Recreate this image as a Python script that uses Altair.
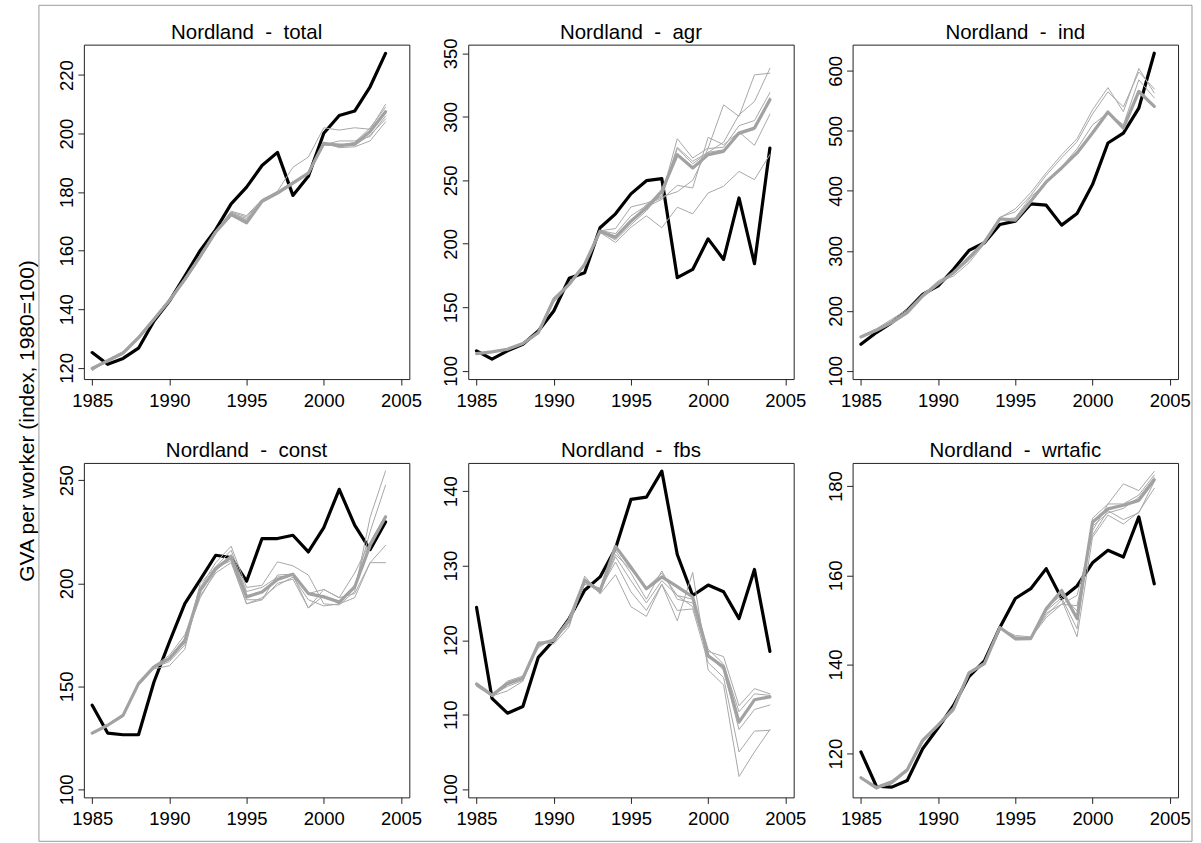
import altair as alt
import pandas as pd

YEARS = list(range(1985, 2005))
X_TICKS = [1985, 1990, 1995, 2000, 2005]
X_DOMAIN = [1984.46, 2005.54]
FONT = "Liberation Sans"
SEP = "\u00a0\u00a0-\u00a0\u00a0"
Y_TITLE = "GVA per worker (index, 1980=100)"

# ---- total ----
TOTAL_ACTUAL = [125.2, 121.2, 123.2, 126.7, 136.0, 142.8, 151.3, 160.1, 167.2, 176.0,
                181.7, 189.1, 193.6, 178.9, 185.4, 200.1, 206.2, 207.7, 216.0, 227.4]
TOTAL_SYNTH = [119.8, 122.4, 125.0, 130.3, 136.6, 143.0, 150.2, 158.1, 166.4, 172.3,
               169.5, 176.9, 179.7, 183.1, 186.5, 196.7, 195.9, 196.4, 200.7, 207.5]
TOTAL_RUNS = [
    [119.5, 122.0, 125.4, 130.8, 137.0, 143.2, 150.5, 158.6, 166.8, 173.5, 172.0, 177.5, 180.3, 188.5, 192.0, 202.0, 201.2, 202.0, 201.5, 210.0],
    [119.0, 122.6, 125.2, 129.8, 136.2, 142.8, 149.8, 157.6, 166.0, 172.8, 171.0, 177.2, 180.0, 183.4, 186.8, 197.0, 195.2, 195.5, 197.5, 204.0],
    [120.2, 122.2, 124.6, 130.0, 136.8, 143.4, 150.6, 158.4, 166.6, 173.0, 170.5, 177.0, 180.2, 183.6, 186.2, 196.2, 197.5, 197.5, 199.0, 206.0],
    [119.6, 122.8, 125.6, 130.6, 136.4, 142.6, 149.6, 157.8, 166.2, 172.6, 170.2, 176.6, 179.4, 182.8, 186.8, 196.0, 196.0, 197.0, 202.0, 209.0],
    [119.9, 122.3, 124.8, 130.2, 136.9, 143.1, 150.0, 158.3, 166.5, 173.2, 171.5, 177.4, 179.8, 183.3, 186.4, 196.5, 196.5, 196.0, 199.5, 205.0],
]

# ---- agr ----
AGR_ACTUAL = [115.7, 109.2, 115.7, 120.9, 131.4, 147.1, 172.8, 177.2, 212.6, 223.6,
              239.3, 249.7, 251.3, 173.3, 179.8, 203.9, 187.7, 236.1, 184.3, 275.4]
AGR_SYNTH = [113.6, 114.9, 117.0, 121.5, 130.1, 156.3, 168.1, 183.8, 209.9, 205.2,
             217.8, 228.3, 241.4, 270.2, 259.7, 270.2, 272.8, 287.2, 291.1, 313.4]
AGR_RUNS = [
    [113.0, 114.5, 116.5, 121.0, 131.0, 157.5, 169.0, 184.5, 210.5, 208.0, 222.0, 230.0, 238.0, 282.7, 267.5, 275.4, 309.4, 300.3, 333.0, 334.3],
    [114.0, 115.2, 117.5, 122.0, 130.5, 155.5, 167.5, 183.0, 209.5, 203.0, 215.0, 226.0, 240.0, 276.0, 265.0, 272.0, 280.0, 301.6, 312.0, 338.2],
    [113.4, 114.6, 116.8, 121.2, 129.5, 154.0, 167.0, 182.5, 209.0, 201.0, 213.0, 222.0, 212.6, 228.8, 223.6, 240.0, 245.3, 257.0, 250.5, 270.2],
    [113.8, 115.0, 117.2, 121.8, 130.8, 157.0, 168.5, 184.0, 210.0, 206.0, 219.0, 229.0, 235.0, 246.0, 244.0, 283.8, 278.0, 288.0, 277.5, 302.0],
    [113.2, 114.8, 116.6, 121.4, 129.8, 156.0, 168.8, 184.2, 210.2, 212.0, 229.0, 232.0, 237.0, 241.0, 250.0, 275.0, 276.0, 293.0, 297.0, 319.0],
    [113.6, 115.1, 117.1, 121.6, 130.3, 156.8, 167.8, 183.5, 209.8, 204.0, 217.0, 231.0, 236.0, 275.0, 263.0, 272.0, 274.0, 286.0, 290.0, 315.0],
]

# ---- ind ----
IND_ACTUAL = [144.3, 163.7, 180.4, 200.9, 227.5, 241.4, 269.1, 300.7, 313.4, 343.9,
              349.4, 378.3, 376.1, 342.8, 362.2, 410.4, 479.7, 496.3, 537.9, 629.4]
IND_SYNTH = [156.5, 167.6, 180.4, 197.0, 224.7, 245.2, 263.5, 288.5, 314.5, 353.3,
             351.1, 382.7, 414.9, 438.1, 463.1, 496.3, 531.3, 504.7, 565.6, 540.7]
IND_RUNS = [
    [158, 170, 186, 202, 228, 248, 258, 280, 312, 355, 370, 397, 430, 460, 487, 535, 572, 532, 604, 563],
    [157, 169, 184, 200, 226, 250, 262, 284, 313, 356, 365, 392, 426, 455, 482, 528, 565, 540, 598, 570],
    [155, 166, 181, 198, 225, 246, 262, 286, 315, 352, 355, 390, 412, 440, 470, 510, 530, 510, 585, 555],
]

# ---- const ----
CONST_ACTUAL = [140.8, 127.3, 126.5, 126.5, 152.1, 171.5, 190.1, 201.8, 213.6, 212.5,
                201.0, 221.7, 221.7, 223.3, 215.2, 227.0, 245.6, 228.2, 216.3, 229.8]
CONST_SYNTH = [127.3, 131.1, 135.9, 151.3, 159.4, 163.4, 172.3, 196.6, 207.1, 212.8,
               193.4, 195.8, 201.8, 204.4, 195.0, 193.4, 190.9, 198.2, 218.4, 232.2]
CONST_RUNS = [
    [127.0, 131.5, 136.5, 150.5, 158.5, 160.0, 168.0, 198.0, 210.0, 218.0, 198.0, 199.0, 210.4, 208.5, 204.0, 190.0, 189.5, 196.0, 232.0, 254.5],
    [127.5, 130.8, 135.5, 151.0, 159.0, 162.0, 170.0, 200.0, 208.0, 216.0, 196.0, 198.0, 203.0, 204.0, 188.0, 194.0, 190.0, 198.0, 225.0, 247.6],
    [127.2, 131.0, 136.0, 151.5, 160.0, 165.0, 175.0, 194.0, 205.0, 210.0, 190.0, 193.0, 199.0, 203.0, 192.0, 189.0, 190.0, 193.0, 210.0, 218.4],
    [127.4, 131.3, 135.8, 151.2, 159.8, 164.0, 173.0, 193.0, 206.0, 214.0, 192.0, 192.0, 204.0, 204.5, 195.0, 197.0, 193.0, 195.0, 210.0, 210.0],
    [127.1, 130.9, 136.2, 150.8, 159.2, 163.0, 171.0, 197.0, 207.5, 211.0, 190.0, 192.0, 200.0, 202.0, 188.0, 197.0, 193.0, 205.0, 220.0, 233.0],
]

# ---- fbs ----
FBS_ACTUAL = [124.4, 112.2, 110.2, 111.1, 117.7, 120.0, 122.9, 126.7, 128.5, 132.3,
              138.9, 139.2, 142.7, 131.5, 126.0, 127.4, 126.5, 122.9, 129.5, 118.5]
FBS_SYNTH = [114.1, 112.6, 114.2, 114.9, 119.5, 120.0, 122.7, 128.0, 126.6, 132.6,
             129.8, 126.9, 128.5, 127.2, 125.8, 117.9, 116.4, 109.0, 112.0, 112.4]
FBS_RUNS = [
    [113.8, 112.5, 113.2, 114.5, 119.8, 119.5, 121.8, 128.6, 126.2, 128.8, 124.5, 123.2, 127.5, 122.6, 129.1, 116.0, 114.0, 101.7, 105.0, 108.0],
    [114.0, 112.7, 114.5, 115.2, 119.0, 120.3, 122.0, 128.2, 126.8, 130.5, 126.5, 124.0, 127.5, 124.0, 124.2, 117.0, 115.0, 105.0, 107.8, 107.9],
    [114.2, 112.4, 114.0, 114.8, 119.6, 119.8, 123.0, 127.5, 127.0, 132.0, 129.0, 125.5, 129.3, 125.5, 125.0, 118.5, 117.8, 111.2, 113.5, 112.8],
    [113.9, 112.6, 113.8, 114.6, 119.2, 120.1, 122.3, 127.8, 126.4, 131.2, 128.0, 125.0, 128.0, 126.0, 124.5, 118.0, 116.0, 108.0, 110.7, 111.3],
    [114.3, 112.8, 114.3, 115.0, 119.7, 119.9, 122.5, 128.3, 126.5, 131.5, 129.5, 127.0, 129.0, 126.0, 125.5, 118.8, 116.8, 110.4, 112.8, 112.6],
]

# ---- wrtafic ----
WRT_ACTUAL = [120.4, 112.7, 112.5, 114.0, 121.1, 125.8, 130.8, 137.3, 140.8, 148.3,
              154.8, 157.0, 161.5, 154.8, 157.6, 162.8, 165.6, 164.1, 173.1, 158.1]
WRT_SYNTH = [114.6, 112.4, 113.6, 116.4, 123.0, 126.4, 130.1, 138.1, 140.2, 148.3,
             145.8, 145.8, 152.5, 156.6, 150.3, 171.9, 174.9, 175.7, 176.8, 181.4]
WRT_RUNS = [
    [114.8, 112.2, 113.2, 116.0, 122.5, 126.2, 129.5, 137.8, 140.0, 148.0, 146.2, 146.0, 151.0, 154.5, 146.2, 168.5, 173.5, 171.5, 174.2, 179.5],
    [114.4, 112.0, 113.8, 116.6, 123.3, 126.6, 130.5, 138.3, 140.5, 148.1, 146.5, 146.2, 152.0, 155.0, 148.0, 172.8, 176.0, 180.5, 179.0, 183.3],
    [114.7, 112.6, 114.0, 116.2, 122.8, 126.3, 129.8, 137.9, 140.1, 148.2, 145.5, 145.6, 151.5, 153.5, 153.2, 170.0, 176.0, 176.0, 178.0, 182.5],
    [114.5, 112.3, 113.4, 116.5, 123.1, 126.5, 130.2, 138.2, 140.3, 148.4, 145.9, 145.9, 150.5, 153.5, 155.5, 169.0, 174.5, 172.5, 174.0, 181.0],
    [114.6, 112.5, 113.7, 116.3, 122.9, 126.4, 130.0, 138.0, 140.2, 148.3, 146.0, 145.7, 152.8, 155.5, 152.0, 171.0, 174.0, 175.0, 177.5, 182.0],
]

PANEL_W = 326
PANEL_H = 335
COL_GAP = 59
ROW_GAP = 84


def runs_frame(runs):
    rows = []
    for i, run in enumerate(runs):
        for yr, v in zip(YEARS, run):
            rows.append({"year": yr, "value": v, "run": f"run{i}"})
    return pd.DataFrame(rows)


def series_frame(values):
    return pd.DataFrame({"year": YEARS, "value": values})


def text_layer(label, x, y, **mark_kw):
    return alt.Chart(pd.DataFrame({"label": [label]})).mark_text(
        font=FONT, color="black", **mark_kw
    ).encode(x=alt.value(x), y=alt.value(y), text="label:N")


def panel(sector, actual, synth, runs, y_domain, y_ticks, first=False):
    x = alt.X(
        "year:Q",
        scale=alt.Scale(domain=X_DOMAIN, nice=False, zero=False),
        axis=alt.Axis(values=X_TICKS, format="d", title=None),
    )
    y = alt.Y(
        "value:Q",
        scale=alt.Scale(domain=y_domain, nice=False, zero=False),
        axis=alt.Axis(values=y_ticks, format="d", title=None),
    )
    line_style = dict(strokeJoin="round", strokeCap="round")
    black = alt.Chart(series_frame(actual)).mark_line(
        color="black", strokeWidth=3.2, **line_style
    ).encode(x=x, y=y)
    thin = alt.Chart(runs_frame(runs)).mark_line(
        color="#a8a8a8", strokeWidth=1, **line_style
    ).encode(x=x, y=y, detail="run:N")
    thick = alt.Chart(series_frame(synth)).mark_line(
        color="#a2a2a2", strokeWidth=3.2, **line_style
    ).encode(x=x, y=y)
    heading = text_layer(
        f"Nordland{SEP}{sector}", PANEL_W / 2, -6,
        fontSize=20.5, align="center", baseline="alphabetic",
    )
    layers = [black, thin, thick, heading]
    if first:
        # outer figure border and the shared y-axis title, placed relative to the first panel
        total_w = 3 * PANEL_W + 2 * COL_GAP
        total_h = 2 * PANEL_H + ROW_GAP
        border = alt.Chart(pd.DataFrame({"k": [0]})).mark_rect(
            filled=False, color="#9a9a9a", strokeWidth=1
        ).encode(
            x=alt.value(-45), x2=alt.value(total_w + 14),
            y=alt.value(-39.4), y2=alt.value(total_h + 44),
        )
        y_title = text_layer(
            Y_TITLE, -50, total_h / 2,
            fontSize=21, align="center", baseline="alphabetic", angle=270,
        )
        layers += [border, y_title]
    return alt.layer(*layers).properties(width=PANEL_W, height=PANEL_H)


panels = [
    panel("total", TOTAL_ACTUAL, TOTAL_SYNTH, TOTAL_RUNS, [116.15, 230.4], [120, 140, 160, 180, 200, 220], first=True),
    panel("agr", AGR_ACTUAL, AGR_SYNTH, AGR_RUNS, [93.5, 356.8], [100, 150, 200, 250, 300, 350]),
    panel("ind", IND_ACTUAL, IND_SYNTH, IND_RUNS, [86.2, 643.7], [100, 200, 300, 400, 500, 600]),
    panel("const", CONST_ACTUAL, CONST_SYNTH, CONST_RUNS, [96.1, 258.4], [100, 150, 200, 250]),
    panel("fbs", FBS_ACTUAL, FBS_SYNTH, FBS_RUNS, [98.9, 143.8], [100, 110, 120, 130, 140]),
    panel("wrtafic", WRT_ACTUAL, WRT_SYNTH, WRT_RUNS, [110.2, 185.2], [120, 140, 160, 180]),
]

chart = alt.concat(
    *panels,
    columns=3,
    spacing={"row": ROW_GAP, "column": COL_GAP},
    bounds="flush",
).properties(
    padding={"left": 16, "top": 3, "right": 8, "bottom": 1},
    background="white",
).configure_view(
    stroke="#222222", strokeWidth=1,
).configure_axis(
    labelFont=FONT,
    labelFontSize=18.5,
    labelColor="black",
    tickColor="#222222",
    tickSize=6,
    tickWidth=1,
    domain=False,
    grid=False,
).configure_axisX(
    labelPadding=6,
).configure_axisY(
    labelAngle=270,
    labelAlign="center",
    labelBaseline="alphabetic",
    labelPadding=5.5,
)

chart.save("out.html", embed_options={"renderer": "svg", "actions": False})
